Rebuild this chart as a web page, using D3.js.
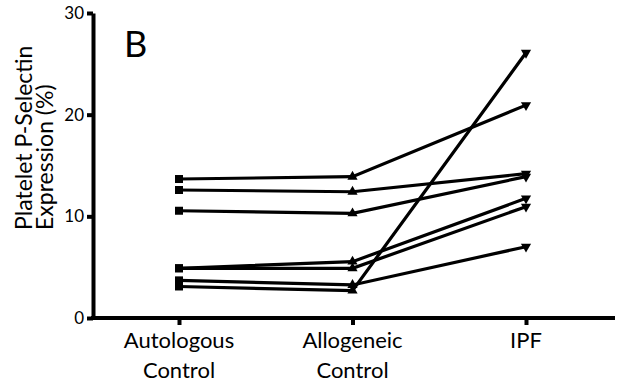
<!DOCTYPE html>
<html><head><meta charset="utf-8">
<script src="https://cdn.jsdelivr.net/npm/d3@7"></script>
<style>body{margin:0;background:#fff}svg{display:block}text{font-family:Lato,"Open Sans",sans-serif;fill:#000}</style>
</head><body><svg id="c" width="617" height="390"></svg>
<script>
const categories = ["Autologous Control", "Allogeneic Control", "IPF"];
const autologous = [13.67, 12.59, 10.55, 4.89, 4.89, 3.7, 3.1];
const allogeneic = [13.9, 12.42, 10.3, 5.54, 4.89, 3.25, 2.69];
const ipf = [20.94, 14.2, 13.9, 11.77, 10.95, 7.01, 26.09];
const yTicks = [0, 10, 20, 30];
const panelLabel = "B";
const yTitle = ["Platelet P-Selectin", "Expression (%)"];

const svg = d3.select("#c");
const x = d3.scalePoint().domain(categories).range([179, 526]);
const y = d3.scaleLinear().domain([0, 30]).range([318, 13]);

// y axis
const ya = svg.append("g").attr("transform", "translate(93,0)")
  .call(d3.axisLeft(y).tickValues(yTicks).tickSize(6).tickPadding(3).tickSizeOuter(0));
ya.select(".domain").attr("stroke", "#000").attr("stroke-width", 4);
ya.selectAll(".tick line").attr("stroke", "#000").attr("stroke-width", 4);
ya.selectAll(".tick text").attr("font-size", 17).style("font-family", "Lato, sans-serif");

// x axis
const xa = svg.append("g").attr("transform", "translate(0,318)")
  .call(d3.axisBottom(x).tickSize(7).tickSizeOuter(0).tickFormat(""));
xa.select(".domain").remove();
xa.append("line").attr("x1", 91).attr("x2", 615).attr("stroke", "#000").attr("stroke-width", 4);
xa.selectAll(".tick line").attr("stroke", "#000").attr("stroke-width", 4);
categories.forEach(c => {
  const words = c.split(" ");
  const t = svg.append("text").attr("x", x(c)).attr("text-anchor", "middle").attr("font-size", 22);
  words.forEach((w, i) => t.append("tspan").attr("x", x(c)).attr("y", 348 + i * 30).text(w));
});

// y title
const yt = svg.append("text").attr("transform", "translate(0,230) rotate(-90)").attr("font-size", 23);
yTitle.forEach((s, i) => yt.append("tspan").attr("x", 0).attr("y", 32 + i * 21).text(s));

svg.append("text").attr("x", 124).attr("y", 57).attr("font-size", 36).text(panelLabel);

// lines
const subjects = autologous.map((v, i) => [autologous[i], allogeneic[i], ipf[i]]);
const line = d3.line().x((d, i) => x(categories[i])).y(d => y(d));
svg.append("g").selectAll("path").data(subjects).join("path")
  .attr("d", line).attr("fill", "none").attr("stroke", "#000").attr("stroke-width", 3.2);

// markers
const mk = svg.append("g");
mk.selectAll("rect").data(autologous).join("rect")
  .attr("x", d => x(categories[0]) - 4).attr("y", d => y(d) - 4).attr("width", 8).attr("height", 8);
const tri = d3.symbol().type(d3.symbolTriangle).size(45);
mk.selectAll("path.up").data(allogeneic).join("path").attr("class", "up")
  .attr("d", tri).attr("transform", d => `translate(${x(categories[1])},${y(d)})`);
mk.selectAll("path.dn").data(ipf).join("path").attr("class", "dn")
  .attr("d", tri).attr("transform", d => `translate(${x(categories[2])},${y(d)}) rotate(180)`);
</script></body></html>
